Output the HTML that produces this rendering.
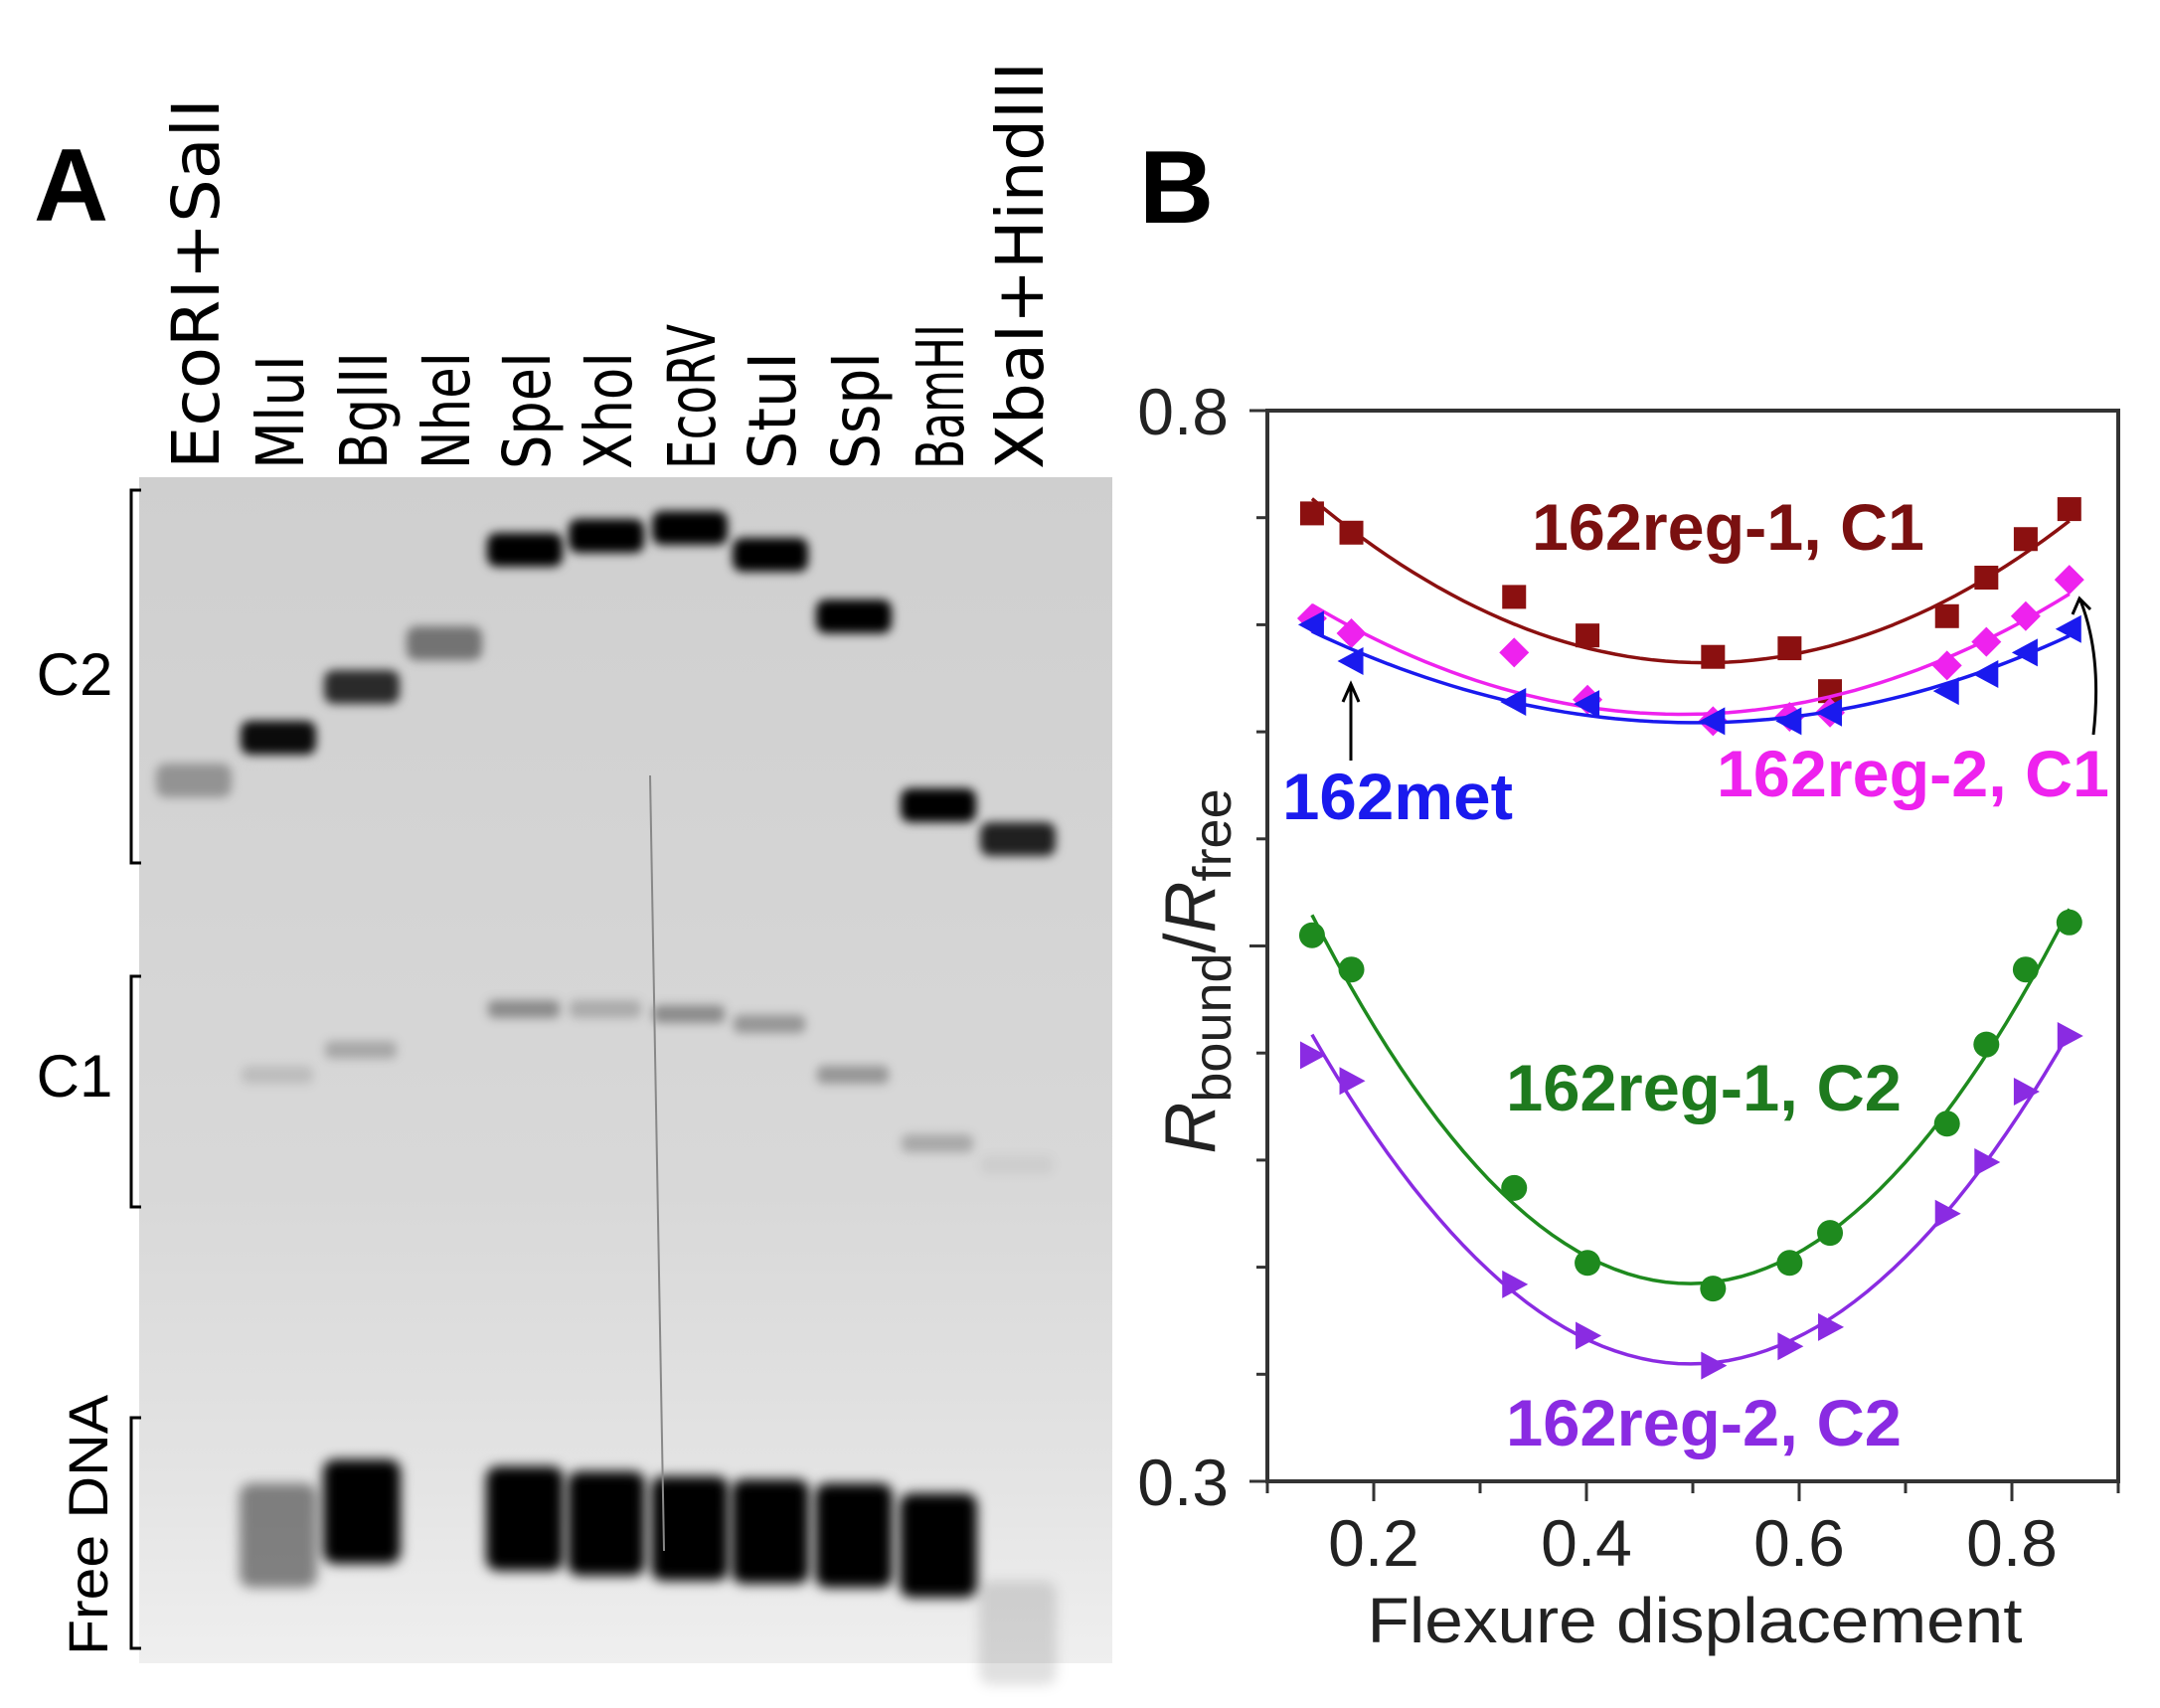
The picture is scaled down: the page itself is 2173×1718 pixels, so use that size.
<!DOCTYPE html>
<html><head><meta charset="utf-8"><style>
html,body{margin:0;padding:0;background:#fff;}
svg{display:block;font-family:"Liberation Sans",sans-serif;}
</style></head><body>
<svg id="fig" width="2173" height="1718" viewBox="0 0 2173 1718">
<defs>
<filter id="blur" x="-20%" y="-200%" width="140%" height="500%"><feGaussianBlur stdDeviation="5"/></filter>
<filter id="blur2" x="-20%" y="-50%" width="140%" height="200%"><feGaussianBlur stdDeviation="6"/></filter>
<linearGradient id="gelbg" x1="0" y1="0" x2="0" y2="1">
<stop offset="0" stop-color="#cfcfcf"/><stop offset="0.6" stop-color="#d8d8d8"/><stop offset="0.85" stop-color="#e4e4e4"/><stop offset="1" stop-color="#efefef"/></linearGradient>
</defs>
<text x="34" y="222" font-size="104" font-weight="bold">A</text>
<text x="1146" y="224" font-size="104" font-weight="bold">B</text>
<g id="gel">
<rect x="140" y="480" width="979" height="1193" fill="url(#gelbg)"/>
<g id="bands"></g>
<line x1="654" y1="780" x2="668" y2="1560" stroke="#888" stroke-width="2"/>
</g>
<g id="lanelabels"></g>
<g stroke="#000" stroke-width="3" fill="none"><path d="M142,493 H132 V868 H142"/></g>
<g stroke="#000" stroke-width="3" fill="none"><path d="M142,982 H132 V1214 H142"/></g>
<g stroke="#000" stroke-width="3" fill="none"><path d="M142,1426 H132 V1658 H142"/></g>
<text x="75" y="699" font-size="60" text-anchor="middle">C2</text>
<text x="75" y="1103" font-size="60" text-anchor="middle">C1</text>
<text transform="translate(108,1534) rotate(-90)" font-size="56" text-anchor="middle" textLength="262" lengthAdjust="spacingAndGlyphs">Free DNA</text>
<g id="chart"></g>
</svg>
<script>
var NS="http://www.w3.org/2000/svg";
function mk(tag,attrs,parent){var e=document.createElementNS(NS,tag);for(var k in attrs)e.setAttribute(k,attrs[k]);parent.appendChild(e);return e;}
// ---- gel ----
var laneNames=["EcoRI+SalI","MluI","BglII","NheI","SpeI","XhoI","EcoRV","StuI","SspI","BamHI","XbaI+HindIII"];
var laneX=[194,279,363,446,527,609,693,774,858,943,1023];
var c2Y=[784,741,690,646,552,538,530,557,619,809,843];
var c2I=[0.3,0.95,0.8,0.45,1,1,1,1,1,1,0.85];
var c1Y=[0,1081,1056,0,1015,1015,1020,1030,1081,1150,1172];
var c1I=[0,0.12,0.22,0,0.35,0.2,0.35,0.3,0.3,0.22,0.05];
var freeY=[0,1552,1528,0,1535,1540,1545,1548,1552,1562,1650];
var freeI=[0,0.45,1,0,1,1,1,1,1,1,0.12];
var labelLen=[373,115,118,118,118,118,146,118,118,146,410];
var bands=document.getElementById('bands');
var lbl=document.getElementById('lanelabels');
for(var i=0;i<laneNames.length;i++){
  var x=laneX[i];
  var b=mk('rect',{x:x-37,y:c2Y[i]-16,width:76,height:34,rx:10,fill:'#000','fill-opacity':c2I[i],filter:'url(#blur)'},bands);
  
  
  if(c1I[i]>0){
    var b1=mk('rect',{x:x-36,y:c1Y[i]-9,width:72,height:18,rx:6,fill:'#000','fill-opacity':c1I[i],filter:'url(#blur)'},bands);
    
    
  }
  if(freeI[i]>0){
    var b2=mk('rect',{x:x-38,y:freeY[i]-60,width:78,height:105,rx:12,fill:'#000','fill-opacity':freeI[i],filter:'url(#blur2)'},bands);
    
    
  }
  var t=mk('text',{transform:'translate('+(x+26)+',472) rotate(-90)','font-size':66,'font-family':'"DejaVu Sans",sans-serif',textLength:labelLen[i],lengthAdjust:'spacingAndGlyphs'},lbl);
  t.textContent=laneNames[i];
  
  
}
// ---- chart ----
var xVals=[0.142,0.179,0.332,0.401,0.519,0.591,0.629,0.739,0.776,0.813,0.854];
var reg1C1=[0.752,0.743,0.713,0.695,0.685,0.689,0.669,0.704,0.722,0.740,0.754];
var reg2C1=[0.703,0.696,0.687,0.665,0.655,0.657,0.659,0.681,0.692,0.704,0.721];
var met=[0.700,0.683,0.664,0.663,0.655,0.655,0.659,0.669,0.677,0.687,0.698];
var reg1C2=[0.555,0.539,0.437,0.402,0.390,0.402,0.416,0.467,0.504,0.539,0.561];
var reg2C2=[0.499,0.487,0.392,0.368,0.354,0.363,0.372,0.425,0.449,0.482,0.508];
var xTicks=[0.2,0.4,0.6,0.8];
var yTickLabels=["0.8","0.3"];
var X0=1275,X1=2131,Y0=413,Y1=1490,xmin=0.1,xmax=0.9,ymin=0.3,ymax=0.8;
function sx(v){return X0+(v-xmin)/(xmax-xmin)*(X1-X0);}
function sy(v){return Y1-(v-ymin)/(ymax-ymin)*(Y1-Y0);}
var ch=document.getElementById('chart');
var fr=mk('rect',{x:X0,y:Y0,width:X1-X0,height:Y1-Y0,fill:'none',stroke:'#333','stroke-width':4},ch);


for(var k=0;k<=10;k++){
  var v=ymin+k*0.05,len=(k%5==0)?18:11;
  var tk=mk('line',{x1:X0-len,x2:X0,y1:sy(v),y2:sy(v),stroke:'#333','stroke-width':3},ch);
  
  
}
for(var k=0;k<=8;k++){
  var v=0.1+k*0.1,len=(k%2==1)?20:12;
  var tk=mk('line',{x1:sx(v),x2:sx(v),y1:Y1,y2:Y1+len,stroke:'#333','stroke-width':3},ch);
  
  
}
for(var k=0;k<xTicks.length;k++){
  var t=mk('text',{x:sx(xTicks[k]),y:1575,'font-size':66,'text-anchor':'middle',fill:'#222'},ch);
  t.textContent=xTicks[k].toFixed(1);
  
  
}
for(var k=0;k<yTickLabels.length;k++){
  var t=mk('text',{x:1236,y:sy(parseFloat(yTickLabels[k]))+24,'font-size':66,'text-anchor':'end',fill:'#222'},ch);
  t.textContent=yTickLabels[k];
  
  
}
var xt=mk('text',{x:1705,y:1652,'font-size':64,'text-anchor':'middle',fill:'#222',textLength:659,lengthAdjust:'spacingAndGlyphs'},ch);
xt.textContent='Flexure displacement';


var yt=mk('text',{transform:'translate(1222,977) rotate(-90)','font-size':72,'text-anchor':'middle',fill:'#222'},ch);
yt.innerHTML='<tspan font-style="italic">R</tspan><tspan font-size="54" dy="16">bound</tspan><tspan dy="-16">/</tspan><tspan font-style="italic">R</tspan><tspan font-size="54" dy="16">free</tspan>';


function fit(xs,ys){var n=xs.length,S=[0,0,0,0,0],T=[0,0,0];
 for(var i=0;i<n;i++){var p=1;for(var j=0;j<5;j++){S[j]+=p;if(j<3)T[j]+=p*ys[i];p*=xs[i];}}
 var A=[[S[0],S[1],S[2],T[0]],[S[1],S[2],S[3],T[1]],[S[2],S[3],S[4],T[2]]];
 for(var c=0;c<3;c++){for(var r=c+1;r<3;r++){var f=A[r][c]/A[c][c];for(var q=c;q<4;q++)A[r][q]-=f*A[c][q];}}
 var s=[0,0,0];for(var r=2;r>=0;r--){var acc=A[r][3];for(var q=r+1;q<3;q++)acc-=A[r][q]*s[q];s[r]=acc/A[r][r];}return s;}
function marker(type,x,y,col,g){var r=12,el;
 if(type=='sq')el=mk('rect',{x:x-r,y:y-r,width:2*r,height:2*r,fill:col},g);
 else if(type=='ci')el=mk('circle',{cx:x,cy:y,r:r+1,fill:col},g);
 else if(type=='di')el=mk('polygon',{points:[x,y-r-3,x+r+3,y,x,y+r+3,x-r-3,y].join(','),fill:col},g);
 else if(type=='tl')el=mk('polygon',{points:[x-r-2,y,x+r,y-r-2,x+r,y+r+2].join(','),fill:col},g);
 else el=mk('polygon',{points:[x+r+2,y,x-r,y-r-2,x-r,y+r+2].join(','),fill:col},g);
 
 }
function series(name,ys,col,type){
 var g=mk('g',{},ch);
 
 
 var c=fit(xVals,ys),d='';
 for(var k=0;k<=60;k++){var v=xVals[0]+(xVals[xVals.length-1]-xVals[0])*k/60;var yv=c[0]+c[1]*v+c[2]*v*v;d+=(k?'L':'M')+sx(v).toFixed(1)+','+sy(yv).toFixed(1);}
 var p=mk('path',{d:d,fill:'none',stroke:col,'stroke-width':3.5},g);
 
 
 for(var i=0;i<xVals.length;i++)marker(type,sx(xVals[i]),sy(ys[i]),col,g);}
series('series-162reg-1-c1',reg1C1,'#8b1010','sq');
series('series-162reg-2-c1',reg2C1,'#ee22ee','di');
series('series-162met',met,'#1a1aee','tl');
series('series-162reg-1-c2',reg1C2,'#1e8a1e','ci');
series('series-162reg-2-c2',reg2C2,'#8a2be2','tr');
function lab(txt,x,y,w,col,name){var t=mk('text',{x:x,y:y,'font-size':66,'font-weight':'bold',fill:col,textLength:w,lengthAdjust:'spacingAndGlyphs'},ch);t.textContent=txt;
 
 }
lab('162reg-1, C1',1541,553,395,'#7a1010','label-162reg-1-c1');
lab('162met',1290,824,232,'#1a1aee','label-162met');
lab('162reg-2, C1',1727,801,395,'#ee22ee','label-162reg-2-c1');
lab('162reg-1, C2',1515,1117,398,'#1e7a1e','label-162reg-1-c2');
lab('162reg-2, C2',1515,1454,398,'#8a2be2','label-162reg-2-c2');
var a1=mk('path',{d:'M1359,765 V690 M1351,706 L1359,688 L1367,706',fill:'none',stroke:'#000','stroke-width':3},ch);


var a2=mk('path',{d:'M2106,739 Q2115,660 2093,604 M2085,618 L2092,602 L2103,613',fill:'none',stroke:'#000','stroke-width':3},ch);


</script>
</body></html>
